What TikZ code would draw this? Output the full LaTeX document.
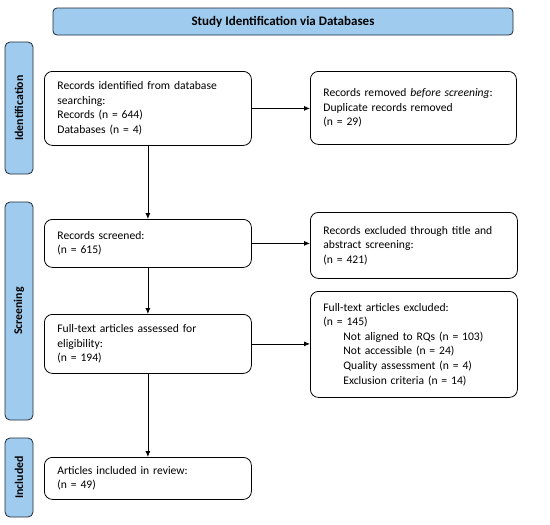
\documentclass[tikz,border=0pt]{standalone}
\usepackage{fontspec}
\setmainfont{Carlito}
\usetikzlibrary{arrows.meta}

\definecolor{phaseblue}{HTML}{9FCBEE}
\definecolor{edge}{HTML}{1F2A36}

\begin{document}
\begin{tikzpicture}[x=1pt, y=-1pt, line width=0.8pt,
  box/.style={draw, rounded corners=8pt, anchor=north west, align=left, inner xsep=13pt, text width=#1, font=\fontsize{11.6}{14.6}\selectfont},
  phase/.style={draw=edge, fill=phaseblue, rounded corners=5pt, rotate=90, minimum width=#1, minimum height=28pt, font=\bfseries\fontsize{11.8}{13}\selectfont},
  flow/.style={-{Latex[length=6pt,width=5pt]}}]
\useasboundingbox (0,0) rectangle (550,525);

\node[draw=edge, fill=phaseblue, rounded corners=4pt, minimum width=460pt, minimum height=27pt, font=\bfseries\fontsize{13}{15}\selectfont] (head) at (283,21.5) {Study Identification via Databases};

\node[phase=132pt] (ident) at (19,108) {Identification};
\node[phase=218pt] (screen) at (19,311) {Screening};
\node[phase=79pt] (incl) at (19,477.5) {Included};

\node[box=181pt, minimum height=74pt] (found) at (44,71) {Records identified from database\\searching:\\Records (n = 644)\\Databases (n = 4)};
\node[box=180pt, minimum height=73pt] (dupes) at (310,71) {Records removed \textit{before screening}:\\Duplicate records removed\\(n = 29)};

\node[box=181pt, minimum height=48pt] (screened) at (44,219) {Records screened:\\(n = 615)};
\node[box=181pt, minimum height=66pt] (titleout) at (310,212) {Records excluded through title and\\abstract screening:\\(n = 421)};

\node[box=181pt, minimum height=59pt] (fulltext) at (44,314) {Full-text articles assessed for\\eligibility:\\(n = 194)};
\node[box=181pt, minimum height=106pt] (fullout) at (310,291) {Full-text articles excluded:\\(n = 145)\\\hspace*{20pt}Not aligned to RQs (n = 103)\\\hspace*{20pt}Not accessible (n = 24)\\\hspace*{20pt}Quality assessment (n = 4)\\\hspace*{20pt}Exclusion criteria (n = 14)};

\node[box=181pt, minimum height=42pt] (included) at (44,457) {Articles included in review:\\(n = 49)};

\draw[flow] (found.east) -- (dupes.west |- found.east);
\draw[flow] (found.south) -- (screened.north);
\draw[flow] (screened.east) -- (titleout.west |- screened.east);
\draw[flow] (screened.south) -- (fulltext.north);
\draw[flow] (fulltext.east) -- (fullout.west |- fulltext.east);
\draw[flow] (fulltext.south) -- (included.north);
\end{tikzpicture}
\end{document}
